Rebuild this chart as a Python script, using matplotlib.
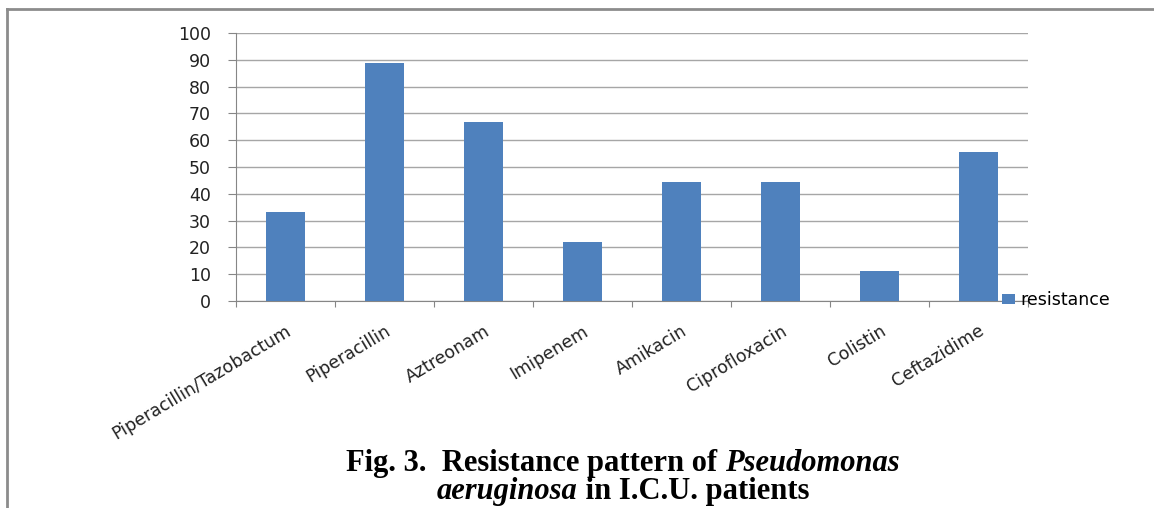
import matplotlib
matplotlib.use('Agg')
import matplotlib.pyplot as plt
import numpy as np

drugs = ['Piperacillin/Tazobactum', 'Piperacillin', 'Aztreonam', 'Imipenem',
         'Amikacin', 'Ciprofloxacin', 'Colistin', 'Ceftazidime']
resistance = [33.3, 88.9, 66.7, 22.2, 44.4, 44.4, 11.1, 55.6]
yticks = [0, 10, 20, 30, 40, 50, 60, 70, 80, 90, 100]

plt.rcParams['font.family'] = ['DejaVu Sans']

W, H = 1154, 508
fig = plt.figure(figsize=(W / 100, H / 100), dpi=100)
ax = fig.add_axes([236 / W, 1 - 301 / H, (1028 - 236) / W, (301 - 33) / H])

x = np.arange(len(drugs))
ax.bar(x, resistance, width=0.4, color='#4F81BD', label='resistance', zorder=3)

ax.set_xlim(-0.5, len(drugs) - 0.5)
ax.set_ylim(0, 100)
ax.set_yticks(yticks)
ax.set_yticklabels([str(v) for v in yticks], fontsize=12.5, color='#222222')
ax.yaxis.grid(True, color='#A6A6A6', linewidth=1, zorder=0)

# x ticks at category boundaries, labels at centres
ax.set_xticks(np.arange(len(drugs) + 1) - 0.5)
ax.set_xticklabels([])
ax.set_xticks(x, minor=True)
ax.set_xticklabels(drugs, minor=True, rotation=31, ha='right', va='top',
                   rotation_mode='anchor', fontsize=12.5, color='#222222')
ax.tick_params(axis='x', which='minor', length=0, pad=15)
ax.tick_params(axis='x', which='major', length=4.5, color='#868686')
ax.tick_params(axis='y', length=6, color='#868686', pad=12)

for s in ['top', 'right']:
    ax.spines[s].set_visible(False)
for s in ['left', 'bottom']:
    ax.spines[s].set_color('#868686')

fig.legend(loc='center left', bbox_to_anchor=(1002 / W, 1 - 300 / H),
           frameon=False, fontsize=12.5, handlelength=0.75, handleheight=0.55,
           handletextpad=0.3, borderpad=0, borderaxespad=0)

# outer frame (top and left only)
fig.add_artist(plt.Line2D([7 / W, 1], [1 - 9 / H, 1 - 9 / H], color='#8C8C8C', lw=2))
fig.add_artist(plt.Line2D([7 / W, 7 / W], [0, 1 - 9 / H], color='#8C8C8C', lw=2))

# caption with mixed bold / bold italic
lines = [
    [('Fig. 3.  Resistance pattern of ', 'normal'), ('Pseudomonas', 'italic')],
    [('aeruginosa', 'italic'), (' in I.C.U. patients', 'normal')],
]
ys = [1 - 471 / H, 1 - 499 / H]
fig.canvas.draw()
r = fig.canvas.get_renderer()
for parts, yy in zip(lines, ys):
    texts = []
    for s, st in parts:
        t = fig.text(0, yy, s, family='Liberation Serif', weight='bold', style=st,
                     fontsize=22, ha='left', va='baseline')
        texts.append(t)
    widths = [t.get_window_extent(r).width / W for t in texts]
    xx = 623 / W - sum(widths) / 2
    for t, w in zip(texts, widths):
        t.set_x(xx)
        xx += w

fig.savefig('out.png', dpi=100)
